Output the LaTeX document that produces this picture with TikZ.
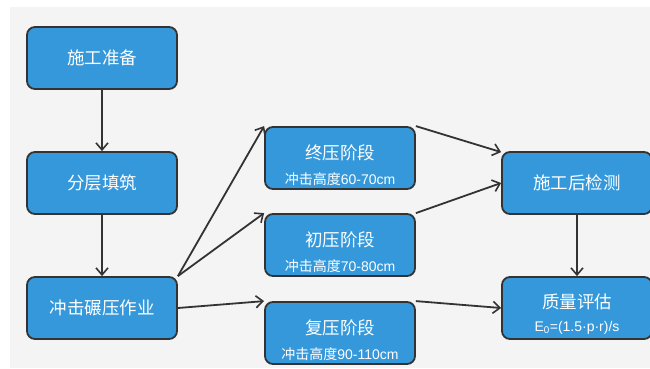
\documentclass[tikz,border=0pt]{standalone}
\usepackage{fontspec}
\setmainfont{Noto Sans CJK SC}
\newfontfamily\latinf{Liberation Sans}
\usetikzlibrary{arrows.meta}
\definecolor{boxblue}{HTML}{3498DB}
\definecolor{edge}{HTML}{333333}
\definecolor{bg}{HTML}{F4F4F4}
\begin{document}
\begin{tikzpicture}[x=1pt,y=-1pt,
  box/.style={draw=edge, line width=1.8pt, fill=boxblue, rounded corners=8pt,
    minimum width=150pt, minimum height=62pt, inner sep=0pt},
  lbl/.style={text=white, font=\fontsize{17.5}{20}\selectfont, inner sep=0pt},
  sub/.style={text=white, font=\fontsize{14}{16}\selectfont, inner sep=0pt},
  conn/.style={draw=edge, line width=1.8pt, -{Straight Barb[length=7pt,width=12pt,line width=1.6pt]}}]
\useasboundingbox (0,0) rectangle (650,368);
\clip (0,0) rectangle (650,368);
\fill[white] (0,0) rectangle (650,368);
\fill[bg] (10,7) rectangle (650,368);

\node[box] (zb) at (102,58) {};
\node[lbl] at (zb.center) {施工准备};
\node[box] (fc) at (102,183) {};
\node[lbl] at (fc.center) {分层填筑};
\node[box] (cj) at (102,308) {};
\node[lbl] at (cj.center) {冲击碾压作业};

\node[box] (zy) at (340,158) {};
\node[lbl] at (340,153) {终压阶段};
\node[sub] at (340,179) {冲击高度{\latinf 60-70cm}};
\node[box] (cy) at (340,245) {};
\node[lbl] at (340,240) {初压阶段};
\node[sub] at (340,266) {冲击高度{\latinf 70-80cm}};
\node[box] (fy) at (340,333) {};
\node[lbl] at (340,328) {复压阶段};
\node[sub] at (340,354) {冲击高度{\latinf 90-110cm}};

\node[box] (jc) at (577,183) {};
\node[lbl] at (jc.center) {施工后检测};
\node[box] (pg) at (577,308) {};
\node[lbl] at (577,302) {质量评估};
\node[sub] at (577,328) {\latinf E\textsubscript{0}=(1.5·p·r)/s};

\draw[conn] (zb.south) -- (fc.north);
\draw[conn] (fc.south) -- (cj.north);
\draw[conn] (cj.north east) -- (zy.north west);
\draw[conn] (cj.north east) -- (cy.north west);
\draw[conn] (cj.east) -- (fy.north west);
\draw[conn] (zy.north east) -- ([yshift=-1pt]jc.north west);
\draw[conn] (cy.north east) -- (jc.west);
\draw[conn] (fy.north east) -- (pg.west);
\draw[conn] (jc.south) -- (pg.north);
\end{tikzpicture}
\end{document}
